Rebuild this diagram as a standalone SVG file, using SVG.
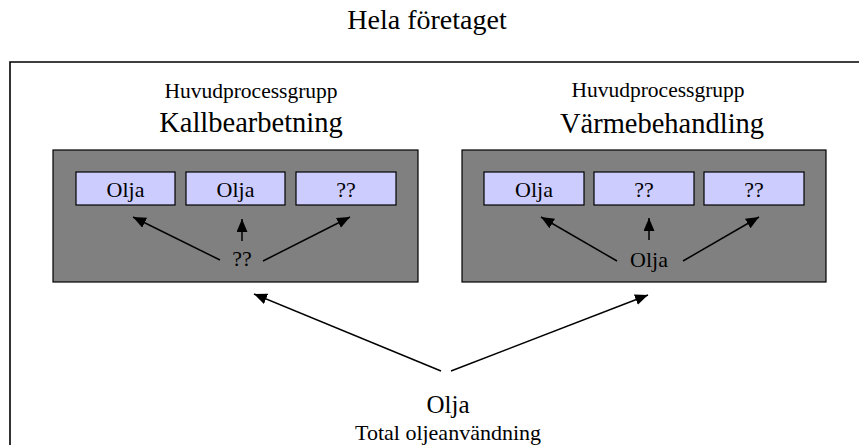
<svg xmlns="http://www.w3.org/2000/svg" width="859" height="445" viewBox="0 0 859 445">
<defs>
<style>
text{font-family:"Liberation Serif","Times New Roman",serif;fill:#000;text-anchor:middle}
.grp{fill:#808080;stroke:#000;stroke-width:1.2}
.box{fill:#ccccff;stroke:#000;stroke-width:1.2}
.lbl{font-size:22px}
.sub{font-size:21.5px}
.big{font-size:28.5px}
.conn line{stroke:#000;stroke-width:1.5;marker-end:url(#ah)}
</style>
<marker id="ah" markerUnits="userSpaceOnUse" markerWidth="14" markerHeight="12" refX="13" refY="5.5" orient="auto" viewBox="0 0 14 12">
<path d="M0,0 L13,5.5 L0,11 z" fill="#000"/>
</marker>
</defs>
<rect width="859" height="445" fill="#fff"/>
<g id="title"><text x="427" y="29" style="font-size:28px">Hela företaget</text></g>
<g id="company"><path d="M10,450 L10,62 L862,62" fill="none" stroke="#000" stroke-width="1.6"/></g>

<g id="group-kall">
<text class="sub" x="251" y="98">Huvudprocessgrupp</text>
<text class="big" x="251" y="132">Kallbearbetning</text>
<rect class="grp" x="53" y="150" width="365" height="132"/>
</g>
<g id="kall-box1"><rect class="box" x="76" y="172" width="99" height="33"/><text class="lbl" x="125.5" y="196.5">Olja</text></g>
<g id="kall-box2"><rect class="box" x="186" y="172" width="99" height="33"/><text class="lbl" x="235.5" y="196.5">Olja</text></g>
<g id="kall-box3"><rect class="box" x="296" y="172" width="100" height="33"/><text class="lbl" x="346" y="196.5">??</text></g>
<g id="kall-src"><text class="lbl" x="242" y="266">??</text></g>

<g id="group-varme">
<text class="sub" x="658" y="97">Huvudprocessgrupp</text>
<text class="big" x="662" y="133">Värmebehandling</text>
<rect class="grp" x="462" y="150" width="364" height="132"/>
</g>
<g id="varme-box1"><rect class="box" x="484" y="172" width="100" height="33"/><text class="lbl" x="534" y="196.5">Olja</text></g>
<g id="varme-box2"><rect class="box" x="594" y="172" width="100" height="33"/><text class="lbl" x="644" y="196.5">??</text></g>
<g id="varme-box3"><rect class="box" x="704" y="172" width="100" height="33"/><text class="lbl" x="754" y="196.5">??</text></g>
<g id="varme-src"><text class="lbl" x="649" y="267">Olja</text></g>

<g id="total">
<text x="448" y="413" style="font-size:25px">Olja</text>
<text class="lbl" x="448" y="440">Total oljeanvändning</text>
</g>

<g id="connectors" class="conn">
<line x1="220" y1="260" x2="133" y2="217"/>
<line x1="242" y1="241" x2="242" y2="219"/>
<line x1="263" y1="261" x2="350" y2="217"/>
<line x1="617" y1="261" x2="541" y2="217"/>
<line x1="649" y1="240" x2="649" y2="218"/>
<line x1="683" y1="261" x2="759" y2="217"/>
<line x1="441" y1="371" x2="254" y2="294"/>
<line x1="451" y1="371" x2="648" y2="295"/>
</g>
</svg>
